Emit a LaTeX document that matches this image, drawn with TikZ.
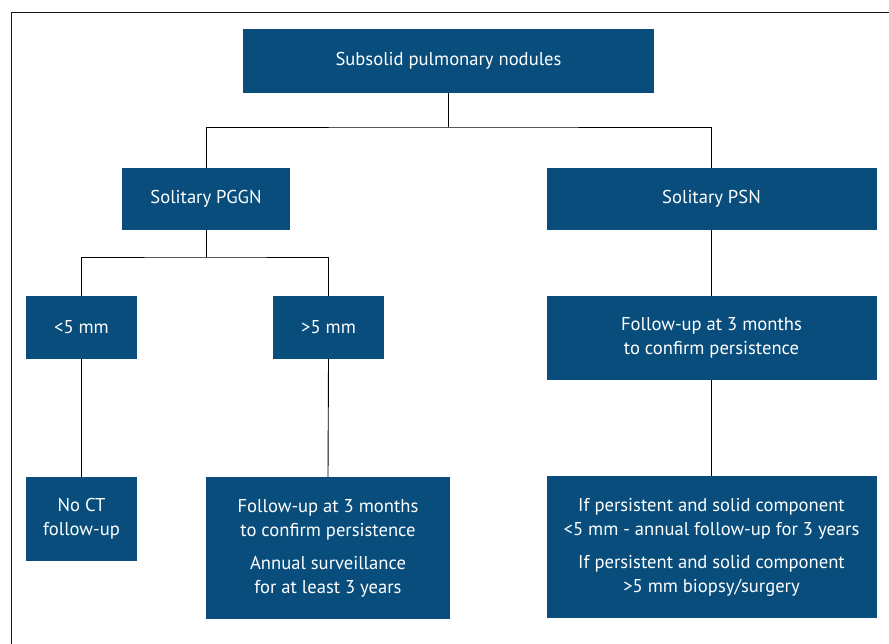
\documentclass[tikz,border=0pt]{standalone}
\usepackage{fontspec}
\setmainfont{PT Sans}
\begin{document}
\begin{tikzpicture}[x=1pt,y=1pt,
  box/.style={fill=boxblue, text=white, inner sep=0pt, align=center,
    font=\fontsize{18.6}{24}\selectfont},
  link/.style={draw=black, line width=0.9pt}]
\definecolor{boxblue}{RGB}{8,77,124}
\useasboundingbox (0,0) rectangle (889,-644);
% outer frame (top and left edges)
\draw[line width=1pt, draw=black!90] (11.5,-644) -- (11.5,-12.5) -- (889,-12.5);

% boxes
\node[box, minimum width=411, minimum height=64] (top) at (448.5,-61) {Subsolid pulmonary nodules};
\node[box, minimum width=168, minimum height=62] (pggn) at (206,-199) {Solitary PGGN};
\node[box, minimum width=330, minimum height=62] (psn) at (711.5,-199) {Solitary PSN};
\node[box, minimum width=111, minimum height=63] (lt) at (81.5,-327.5) {<5 mm};
\node[box, minimum width=111, minimum height=63] (gt) at (328.5,-327.5) {>5 mm};
\node[box, minimum width=330, minimum height=84] (fu) at (711.5,-338) {Follow-up at 3 months\\to confirm persistence};
\node[box, minimum width=111, minimum height=84] (noct) at (81.5,-519) {No CT\\follow-up};
\node[box, minimum width=244, minimum height=142] (mid) at (328,-548)
  {Follow-up at 3 months\\to confirm persistence\\[9pt]Annual surveillance\\for at least 3 years};
\node[box, minimum width=330, minimum height=142] (fin) at (711.5,-547)
  {If persistent and solid component\\<5 mm - annual follow-up for 3 years\\[9pt]If persistent and solid component\\>5 mm biopsy/surgery};

% junctions
\coordinate (j1) at (448.5,-127);
\coordinate (j2) at (206,-257);

% connectors
\draw[link] (top.south) -- (j1);
\draw[link] (pggn.north) |- (j1) -| (psn.north);
\draw[link] (pggn.south) -- (j2);
\draw[link] (lt.north) |- (j2) -| (gt.north);
\draw[link] (lt.south) -- (noct.north);
\draw[link] (gt.south) -- (mid.north);
\draw[link] (psn.south) -- (fu.north);
\draw[link] (fu.south) -- (fin.north);
\end{tikzpicture}
\end{document}
